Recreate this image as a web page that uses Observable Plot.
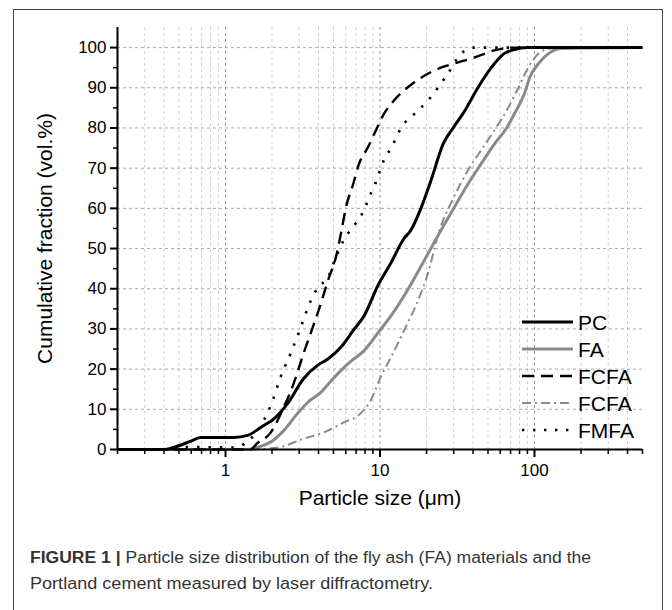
<!DOCTYPE html>
<html>
<head>
<meta charset="utf-8">
<script src="https://cdn.jsdelivr.net/npm/d3@7"></script>
<script src="https://cdn.jsdelivr.net/npm/@observablehq/plot@0.6"></script>
<style>
  html, body { margin: 0; padding: 0; background: #fff; }
  #wrap { position: relative; width: 672px; height: 610px; overflow: hidden; }
  #frame { position: absolute; left: 13px; top: 9px; width: 650px; height: 610px; border: 1px solid #444; box-sizing: border-box; }
  #chart { position: absolute; left: 0; top: 0; }
  #legend { position: absolute; left: 0; top: 0; }
  #caption { position: absolute; left: 0; top: 530px; }
</style>
</head>
<body>
<div id="wrap">
  <div id="frame"></div>
  <div id="chart"></div>
  <svg id="legend" width="672" height="530"></svg>
  <svg id="caption" width="672" height="80"></svg>
</div>
<script>
// ---- data (particle size in µm, cumulative vol.%) ----
const pcX = [0.2, 0.4, 0.46, 0.59, 0.69, 1.13, 1.39, 1.69, 2.11, 2.52, 3.2, 3.96, 4.6, 5.6, 6.7, 7.9, 9.7, 11.8, 14.3, 15.8, 18.4, 21.4, 25.6, 29.7, 35, 43, 52.5, 63.5, 74, 90, 500];
const pcY = [0, 0, 0.5, 2, 3, 3, 3.5, 5.5, 8, 11.4, 17.6, 21, 22.5, 25.5, 29.6, 33.3, 40.8, 46.5, 52.5, 54.5, 60, 67, 76, 80, 84, 90, 95, 98.5, 99.5, 100, 100];

const faX = [0.2, 1.39, 1.69, 2.02, 2.38, 2.93, 3.4, 4.14, 4.8, 5.6, 6.5, 7.9, 9.7, 11.8, 15, 19, 24.1, 30, 37, 45, 55, 66, 74, 86, 93, 106, 123, 150, 500];
const faY = [0, 0, 0.8, 2.2, 4.7, 9, 11.7, 14.2, 17, 19.7, 22, 24.6, 29, 33.3, 39.5, 46.5, 53.7, 60, 66, 71, 76, 80, 83.5, 88.5, 92.5, 96, 98.5, 99.8, 100];

const fcfaX = [0.2, 1.45, 1.6, 1.96, 2.38, 2.76, 3.2, 3.67, 4.14, 4.6, 5.18, 5.7, 6.0, 6.7, 7.3, 8.3, 9.4, 10.6, 12.3, 16.6, 22.4, 30, 40.6, 55, 74, 500];
const fcfaY = [0, 0, 1.5, 4.2, 10.5, 16.4, 23.9, 30.4, 36.3, 42, 47.8, 55.5, 60, 66, 71, 75, 79.4, 83.5, 86.8, 91.3, 94.3, 96, 97.5, 99.3, 100, 100];

const fcfa2X = [0.2, 1.45, 2.2, 3.2, 4.3, 5.8, 7.5, 8.7, 10.1, 11.8, 14.3, 17.6, 20.5, 24, 30, 37, 45, 55, 67.5, 78.6, 91, 106, 128, 500];
const fcfa2Y = [0, 0, 0.5, 2.7, 4.2, 6.7, 9, 12.2, 18, 23, 29.6, 37, 44, 54, 62.7, 69.4, 74.4, 79.4, 85, 90, 95, 98.5, 99.8, 100];

const fmfaX = [0.2, 0.45, 0.55, 1.13, 1.41, 1.74, 2.02, 2.27, 2.64, 3.07, 3.56, 3.96, 4.6, 5.18, 5.8, 6.8, 7.5, 8.1, 8.7, 9.3, 9.9, 10.6, 11.8, 13.7, 17.6, 20.4, 23.7, 27.5, 33.5, 40.6, 500];
const fmfaY = [0, 0, 0.6, 0.5, 2.2, 6.7, 12.2, 18, 23.9, 30.4, 37, 40.3, 42.8, 47.8, 52, 55.7, 58, 60.7, 63.6, 66, 69, 72, 75, 80, 84.3, 86.8, 90, 93.5, 98.5, 100, 100];

const seriesNames = ["PC", "FA", "FCFA", "FCFA", "FMFA"];
const xMajorTicks = [1, 10, 100];
const xMinorTicks = [0.2, 0.3, 0.4, 0.5, 0.6, 0.7, 0.8, 0.9, 2, 3, 4, 5, 6, 7, 8, 9, 20, 30, 40, 50, 60, 70, 80, 90, 200, 300, 400, 500];
const yMajorTicks = [0, 10, 20, 30, 40, 50, 60, 70, 80, 90, 100];
const yMinorTicks = [5, 15, 25, 35, 45, 55, 65, 75, 85, 95];

// ---- styles ----
const styles = [
  {stroke: "#000", strokeWidth: 3, dash: null},
  {stroke: "#8a8a8a", strokeWidth: 3, dash: null},
  {stroke: "#000", strokeWidth: 2.4, dash: "12,7"},
  {stroke: "#8a8a8a", strokeWidth: 2, dash: "9,4,2,4"},
  {stroke: "#000", strokeWidth: 2.6, dash: "2.4,9"}
];

const toRows = (xs, ys) => xs.map((x, i) => ({x, y: ys[i]}));
const seriesData = [toRows(pcX, pcY), toRows(faX, faY), toRows(fcfaX, fcfaY), toRows(fcfa2X, fcfa2Y), toRows(fmfaX, fmfaY)];

const W = 672, H = 530;
const font = "'Liberation Sans', Arial, Helvetica, sans-serif";

const lineMarks = [];
[1, 3, 4, 2, 0].forEach(i => {
  const s = styles[i];
  lineMarks.push(Plot.line(seriesData[i], {
    x: "x", y: "y", stroke: s.stroke, strokeWidth: s.strokeWidth,
    strokeDasharray: s.dash || undefined, curve: "monotone-x", strokeLinecap: "butt"
  }));
});

const chart = Plot.plot({
  width: W, height: H,
  marginLeft: 117, marginRight: 30, marginTop: 27, marginBottom: H - 449,
  x: {type: "log", domain: [0.2, 500]},
  y: {domain: [0, 105]},
  style: {fontFamily: font, fontSize: "16px", color: "#000", background: "transparent", overflow: "visible"},
  marks: [
    Plot.gridX(xMinorTicks.filter(d => d < 500), {stroke: "#cfcfcf", strokeOpacity: 1, strokeDasharray: "3,3", strokeWidth: 1}),
    Plot.gridX(xMajorTicks, {stroke: "#9a9a9a", strokeOpacity: 1, strokeDasharray: "3,3", strokeWidth: 1}),
    Plot.gridY(yMajorTicks.filter(d => d > 0), {stroke: "#a8a8a8", strokeOpacity: 1, strokeDasharray: "3,3", strokeWidth: 1}),
    ...lineMarks,
    Plot.ruleY([0], {stroke: "#000", strokeWidth: 2}),
    Plot.ruleX([0.2], {y1: 0, y2: 105, stroke: "#000", strokeWidth: 2}),
    Plot.axisX({ticks: xMajorTicks, tickSize: 8, tickPadding: 6, tickFormat: d => String(d), label: null, fontSize: 17, strokeWidth: 2}),
    Plot.axisX({ticks: xMinorTicks, tickSize: 5, tickFormat: () => "", label: null, strokeWidth: 1.5}),
    Plot.axisY({ticks: yMajorTicks, tickSize: 7, tickPadding: 4, label: null, fontSize: 17, strokeWidth: 2}),
    Plot.axisY({ticks: yMinorTicks, tickSize: 4, tickFormat: () => "", label: null, strokeWidth: 1.5}),
    Plot.text(["Particle size (μm)"], {frameAnchor: "bottom", dy: 55, fontSize: 21, fill: "#000"}),
    Plot.text(["Cumulative fraction (vol.%)"], {frameAnchor: "left", dx: -72, rotate: -90, textAnchor: "middle", fontSize: 21, fill: "#000"})
  ]
});
document.getElementById("chart").appendChild(chart);

// ---- legend ----
const leg = d3.select("#legend");
const legY0 = 322, legDy = 27;
seriesNames.forEach((name, i) => {
  const s = styles[i];
  const y = legY0 + i * legDy;
  leg.append("line").attr("x1", 522).attr("x2", 573).attr("y1", y).attr("y2", y)
    .attr("stroke", s.stroke).attr("stroke-width", s.strokeWidth)
    .attr("stroke-dasharray", i === 2 ? "12,7" : i === 4 ? "2.4,8.6" : s.dash);
  leg.append("text").attr("x", 578).attr("y", y).attr("dy", "0.36em")
    .attr("font-family", font).attr("font-size", 21).attr("fill", "#000").text(name);
});

// ---- caption ----
const cap = d3.select("#caption");
const t1 = cap.append("text").attr("x", 30).attr("y", 33).attr("font-family", font).attr("font-size", 16).attr("fill", "#333")
  .attr("textLength", 561).attr("lengthAdjust", "spacingAndGlyphs");
t1.append("tspan").attr("font-weight", "bold").text("FIGURE 1 | ");
t1.append("tspan").text("Particle size distribution of the fly ash (FA) materials and the");
cap.append("text").attr("x", 30).attr("y", 59).attr("font-family", font).attr("font-size", 16).attr("fill", "#333")
  .attr("textLength", 403).attr("lengthAdjust", "spacingAndGlyphs")
  .text("Portland cement measured by laser diffractometry.");
</script>
</body>
</html>
